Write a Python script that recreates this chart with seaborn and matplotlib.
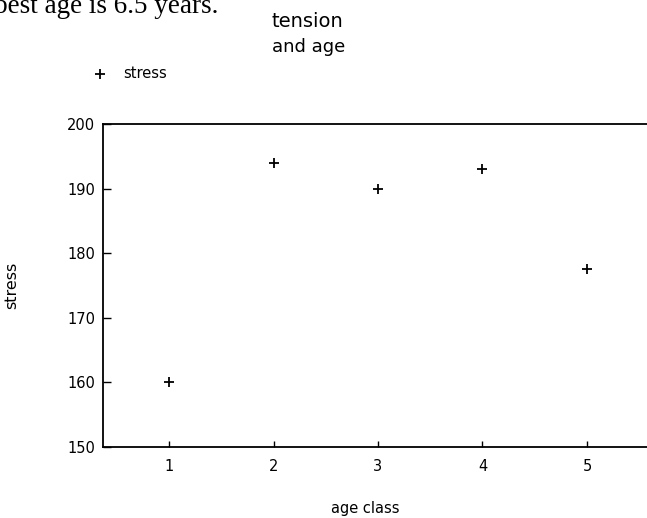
import matplotlib
matplotlib.use("Agg")
import matplotlib.pyplot as plt
import seaborn as sns
import pandas as pd

# Mean stress per age class
age_class = [1, 2, 3, 4, 5]
stress = [160, 194, 190, 193, 177.5]
y_ticks = [150, 160, 170, 180, 190, 200]

df = pd.DataFrame({"age class": age_class, "stress": stress})

sns.set_theme(style="white")
plt.rcParams["font.family"] = ["DejaVu Sans"]
plt.rcParams["text.color"] = "black"
plt.rcParams["axes.labelcolor"] = "black"
plt.rcParams["legend.labelcolor"] = "black"

fig = plt.figure(figsize=(6.47, 5.18), dpi=100)
# axes run past the right edge of the page, as on the printed figure
ax = fig.add_axes([103 / 647, 71 / 518, 550 / 647, 323 / 518])

sns.scatterplot(data=df, x="age class", y="stress", marker="+", color="black",
                s=55, linewidth=1.3, label="stress", ax=ax, legend=False)

ax.set_xlim(0.368, 5.632)
ax.set_ylim(150, 200)
ax.set_xticks(age_class)
ax.set_yticks(y_ticks)

for side in ["left", "top", "bottom", "right"]:
    ax.spines[side].set_color("black")
    ax.spines[side].set_linewidth(1.3)

ax.tick_params(axis="x", direction="in", length=4.5, width=1.0, colors="black",
               labelsize=10.5, pad=8.5, bottom=True)
ax.tick_params(axis="y", direction="in", length=6, width=1.0, colors="black",
               labelsize=10.5, pad=5.5, left=True)

ax.set_xlabel("age class", fontsize=10.5, color="black")
ax.xaxis.set_label_coords((365 - 103) / 550, -(509 - 447) / 323)
ax.xaxis.label.set_va("center")
ax.set_ylabel("stress", fontsize=11.5, color="black")
ax.yaxis.set_label_coords(-(103 - 12) / 550, 0.5)
ax.yaxis.label.set_va("center")

# legend in the upper left
fig.legend(handles=ax.collections[:1], labels=["stress"], loc="center left",
           bbox_to_anchor=(93 / 647, 1 - 73 / 518), frameon=False,
           fontsize=10.5, handlelength=1.0, handletextpad=1.1,
           borderpad=0, borderaxespad=0, labelcolor="black")

# two-line title
fig.text(272 / 647, 1 - 27 / 518, "tension", fontsize=14, va="baseline",
         ha="left", color="black")
fig.text(272 / 647, 1 - 52 / 518, "and age", fontsize=13, va="baseline",
         ha="left", color="black")

# caption text running along the top of the page
fig.text(-5.5 / 647, 1 - 13 / 518, "best age is 6.5 years.", fontsize=19.5,
         family="Liberation Serif", va="baseline", ha="left", color="black")

fig.savefig("out.png", dpi=100)
